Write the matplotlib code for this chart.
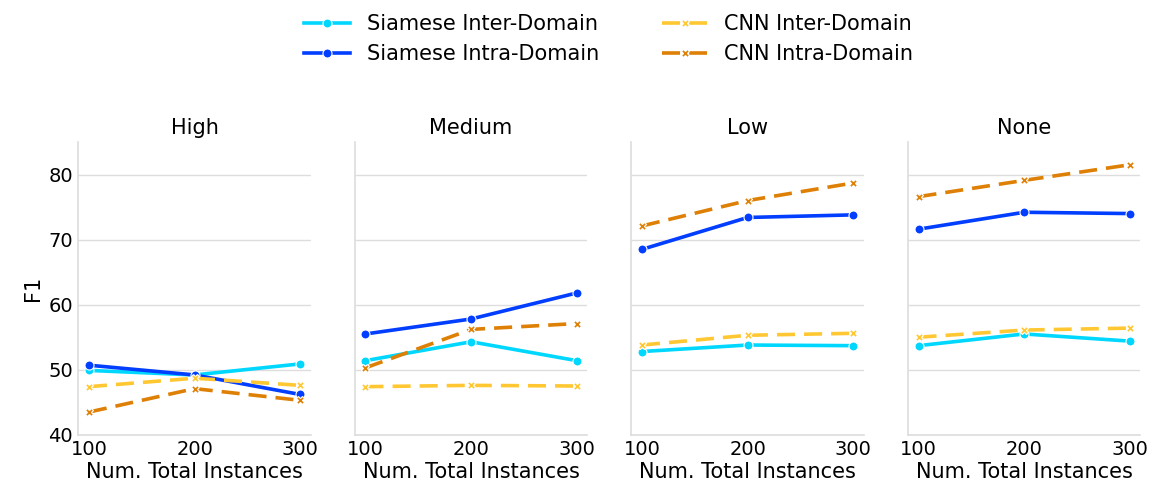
import numpy as np
import matplotlib.pyplot as plt

x = [100, 200, 300]
panels = ['High', 'Medium', 'Low', 'None']

siamese_inter = [[49.9, 49.2, 50.9], [51.4, 54.3, 51.4], [52.8, 53.8, 53.7], [53.7, 55.5, 54.4]]
siamese_intra = [[50.7, 49.2, 46.2], [55.5, 57.8, 61.8], [68.5, 73.4, 73.8], [71.6, 74.2, 74.0]]
cnn_inter = [[47.4, 48.7, 47.6], [47.4, 47.6, 47.5], [53.8, 55.3, 55.6], [55.0, 56.1, 56.4]]
cnn_intra = [[43.5, 47.1, 45.3], [50.3, 56.2, 57.1], [72.1, 76.0, 78.7], [76.6, 79.1, 81.5]]

series = [
    ('Siamese Inter-Domain', siamese_inter, '#00d7ff', '-', 'o'),
    ('Siamese Intra-Domain', siamese_intra, '#023eff', '-', 'o'),
    ('CNN Inter-Domain', cnn_inter, '#ffc833', '--', 'X'),
    ('CNN Intra-Domain', cnn_intra, '#de8005', '--', 'X'),
]

fig, axes = plt.subplots(1, 4, figsize=(11.53, 4.93), dpi=100, sharey=True)
plt.subplots_adjust(left=0.068, right=0.989, top=0.712, bottom=0.118, wspace=0.19)

for i, ax in enumerate(axes):
    for label, data, color, ls, marker in series:
        ax.plot(x, data[i], color=color, linestyle=ls, linewidth=2.6, marker=marker,
                markersize=6.5 if marker == 'o' else 6, markeredgecolor='white',
                markeredgewidth=0.8, label=label, dashes=(5, 2.5) if ls == '--' else (None, None))
    ax.set_title(panels[i], fontsize=15)
    ax.set_xlim(90, 310)
    ax.set_ylim(40, 85)
    ax.set_xticks(x)
    ax.set_yticks([40, 50, 60, 70, 80])
    ax.grid(axis='y', color='#dddddd', linewidth=1)
    ax.set_axisbelow(True)
    for s in ['top', 'right']:
        ax.spines[s].set_visible(False)
    for s in ['left', 'bottom']:
        ax.spines[s].set_color('#dddddd')
        ax.spines[s].set_linewidth(1.2)
    ax.tick_params(axis='both', labelsize=14, length=0, pad=4)
    ax.set_xlabel('Num. Total Instances', fontsize=15, labelpad=2)

axes[0].set_ylabel('F1', fontsize=15)

handles, labels = axes[0].get_legend_handles_labels()
fig.legend(handles, labels, loc='upper center', ncol=2, frameon=False, fontsize=15,
           bbox_to_anchor=(0.528, 1.01), columnspacing=3.0, handlelength=2.2)

fig.savefig('out.png', dpi=100)
